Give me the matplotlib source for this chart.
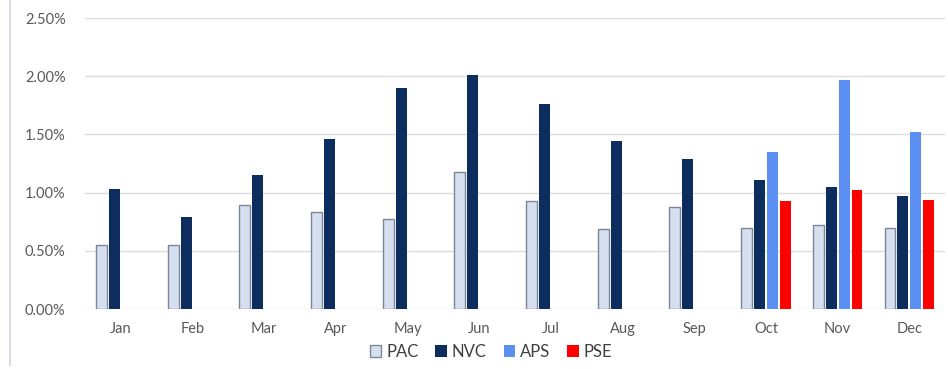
import matplotlib
matplotlib.use('Agg')
import matplotlib.pyplot as plt
import numpy as np
from matplotlib.lines import Line2D
from matplotlib.ticker import FuncFormatter

plt.rcParams['font.family'] = ['Lato', 'DejaVu Sans']

months = ['Jan', 'Feb', 'Mar', 'Apr', 'May', 'Jun',
          'Jul', 'Aug', 'Sep', 'Oct', 'Nov', 'Dec']
pac = [0.55, 0.55, 0.89, 0.83, 0.77, 1.18, 0.93, 0.69, 0.88, 0.70, 0.72, 0.70]
nvc = [1.03, 0.79, 1.15, 1.46, 1.90, 2.01, 1.76, 1.44, 1.29, 1.11, 1.05, 0.97]
aps = [np.nan] * 9 + [1.35, 1.97, 1.52]
pse = [np.nan] * 9 + [0.93, 1.02, 0.94]

series = [
    ('PAC', pac, '#d5dff0', '#7b8797'),
    ('NVC', nvc, '#0c2d5e', '#0c2d5e'),
    ('APS', aps, '#5b8ff2', '#5b8ff2'),
    ('PSE', pse, '#ff0000', '#ff0000'),
]

fig = plt.figure(figsize=(9.48, 3.69), dpi=100)
ax = fig.add_axes([0.0897, 0.1626, 0.9073, 0.7885])

x = np.arange(len(months))
slot = 0.18
width = 0.152
for i, (name, vals, face, edge) in enumerate(series):
    ax.bar(x + (i - 1.5) * slot, vals, width, color=face, edgecolor=edge,
           linewidth=1.0 if name == 'PAC' else 0, label=name, zorder=3)

ax.set_xlim(-0.5, 11.5)
ax.set_ylim(0, 2.5)
ax.set_yticks(np.arange(0, 2.51, 0.5))
ax.yaxis.set_major_formatter(FuncFormatter(lambda v, _: f'{v:.2f}%'))
ax.set_xticks(x)
ax.set_xticklabels(months)
ax.grid(axis='y', color='#dcdcdc', linewidth=1, zorder=0)
for s in ax.spines.values():
    s.set_visible(False)
ax.tick_params(length=0, labelsize=10.5, labelcolor='#595959')
ax.tick_params(axis='x', pad=9)
ax.tick_params(axis='y', pad=14)

leg = fig.legend(*ax.get_legend_handles_labels(), loc='center',
                 bbox_to_anchor=(0.518, 0.046), ncol=4, frameon=False,
                 fontsize=12, handlelength=0.7, handleheight=0.7,
                 handletextpad=0.3, columnspacing=1.0, borderpad=0)
for t in leg.get_texts():
    t.set_color('#404040')

# thin rule along the left edge
fig.add_artist(Line2D([0.011, 0.011], [0.01, 1.0], color='#d3dde9', linewidth=1.5))

fig.savefig('out.png', dpi=100)
